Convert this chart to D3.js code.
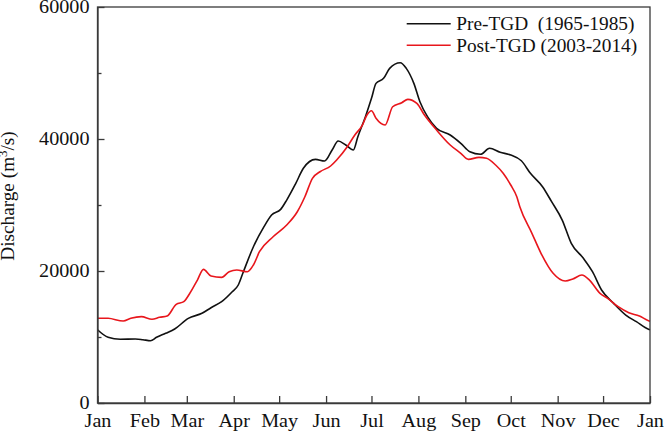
<!DOCTYPE html>
<html>
<head>
<meta charset="utf-8">
<script src="https://cdn.jsdelivr.net/npm/d3@7"></script>
<style>
    body { margin: 0; background: #fff; }
    svg { display: block; }
    text { font-family: "Liberation Serif", "Times New Roman", serif; }
</style>
</head>
<body>
<div id="chart"></div>
<script>
// Month axis (day of year where each month starts)
const monthStarts = [0, 31, 59, 90, 120, 151, 181, 212, 243, 273, 304, 334, 365];
const monthLabels = ["Jan", "Feb", "Mar", "Apr", "May", "Jun", "Jul", "Aug", "Sep", "Oct", "Nov", "Dec", "Jan"];
const yTicks = [0, 20000, 40000, 60000];
const yMinorTicks = [10000, 30000, 50000];

// Pre-TGD (1965-1985) mean daily discharge
const preDays = [0, 7, 15, 25, 30, 35, 39, 45, 51, 60, 69, 75, 82, 89, 93, 96, 103, 110, 115, 121, 125, 131, 136, 144, 150, 155, 159, 164, 169, 172, 177, 181, 184, 189, 193, 200, 204, 209, 213, 218, 224, 233, 240, 246, 253, 259, 266, 273, 280, 286, 294, 300, 307, 313, 321, 327, 333, 341, 349, 356, 364, 365];
const preValues = [11100, 9950, 9650, 9700, 9590, 9440, 9950, 10560, 11210, 12830, 13590, 14440, 15350, 16860, 17880, 19650, 23680, 26710, 28480, 29340, 30750, 33280, 35560, 36910, 36660, 38330, 39690, 39090, 38330, 40350, 43380, 46160, 48430, 49190, 50700, 51560, 50700, 48430, 45650, 43380, 41620, 40600, 39340, 38070, 37680, 38590, 37990, 37570, 36700, 34800, 32770, 30500, 27720, 24190, 21920, 19890, 17120, 15100, 13330, 12320, 11170, 11100];

// Post-TGD (2003-2014) mean daily discharge
const postDays = [0, 7, 17, 22, 29, 36, 41, 46, 52, 57, 61, 66, 70, 75, 82, 87, 92, 99, 103, 107, 116, 125, 132, 137, 142, 147, 154, 158, 165, 170, 175, 178, 181, 184, 190, 195, 201, 205, 211, 216, 224, 233, 240, 245, 252, 257, 263, 268, 273, 277, 279, 287, 293, 301, 309, 314, 320, 325, 332, 337, 344, 351, 358, 364, 365];
const postValues = [12850, 12830, 12420, 12830, 13080, 12680, 12980, 13180, 14950, 15350, 16620, 18630, 20250, 19240, 19040, 19890, 20150, 19890, 20910, 22920, 25190, 26970, 28980, 31250, 34040, 35040, 35910, 36820, 38830, 40600, 42120, 43630, 44280, 43130, 42120, 44890, 45500, 46010, 45400, 43630, 41360, 39090, 37830, 36910, 37220, 37070, 36060, 34800, 33030, 31250, 29740, 25710, 22680, 19650, 18480, 18790, 19390, 18630, 16620, 15860, 14590, 13680, 13180, 12470, 12400];

const seriesNames = ["Pre-TGD  (1965-1985)", "Post-TGD (2003-2014)"];
const seriesColors = ["#111111", "#e8161c"];

const W = 664, H = 432;
const margin = {top: 7, right: 14, bottom: 29, left: 97.5};
const width = W - margin.left - margin.right;
const height = H - margin.top - margin.bottom;
const axisColor = "#3a3a3a";
const stretch = 1.12; // reference text is a little wider than plain Times

const svg = d3.select("#chart").append("svg")
    .attr("width", W)
    .attr("height", H)
    .append("g")
    .attr("transform", `translate(${margin.left},${margin.top})`);

const x = d3.scaleLinear().domain([0, 365]).range([0, width]);
const y = d3.scaleLinear().domain([0, 60000]).range([height, 0]);

// Lines
const line = d3.line()
    .x(d => x(d[0]))
    .y(d => y(d[1]))
    .curve(d3.curveMonotoneX);

const series = [
    d3.zip(preDays, preValues),
    d3.zip(postDays, postValues)
];

series.forEach((s, i) => {
    svg.append("path")
        .datum(s)
        .attr("fill", "none")
        .attr("stroke", seriesColors[i])
        .attr("stroke-width", 1.6)
        .attr("stroke-linejoin", "round")
        .attr("d", line);
});

// X axis (ticks point inward)
svg.append("g")
    .attr("class", "xaxis")
    .attr("transform", `translate(0,${height})`)
    .call(d3.axisBottom(x)
        .tickValues(monthStarts)
        .tickFormat((d, i) => monthLabels[i])
        .tickSizeInner(-7)
        .tickSizeOuter(0)
        .tickPadding(11));

// Y axis
svg.append("g")
    .attr("class", "yaxis")
    .call(d3.axisLeft(y)
        .tickValues(yTicks)
        .tickFormat(d3.format("d"))
        .tickSizeInner(-7)
        .tickSizeOuter(0)
        .tickPadding(8 / stretch));

svg.append("g")
    .call(d3.axisLeft(y)
        .tickValues(yMinorTicks)
        .tickFormat("")
        .tickSizeInner(-4)
        .tickSizeOuter(0))
    .select(".domain").remove();

svg.selectAll(".tick text")
    .style("font-size", "18px")
    .style("fill", "#111")
    .attr("transform", `scale(${stretch},1)`);

svg.selectAll(".domain, .tick line")
    .attr("stroke", axisColor)
    .attr("stroke-width", 1.3);

// Frame
svg.append("rect")
    .attr("width", width)
    .attr("height", height)
    .attr("fill", "none")
    .attr("stroke", axisColor)
    .attr("stroke-width", 1.3);

// Y label
const yLabel = svg.append("text")
    .attr("transform", `translate(${14 - margin.left},${196 - margin.top}) rotate(-90) scale(1.07,1)`)
    .attr("text-anchor", "middle")
    .style("font-size", "18px")
    .style("fill", "#111");
yLabel.append("tspan").text("Discharge (m");
yLabel.append("tspan").attr("dy", -7).style("font-size", "12px").text("3");
yLabel.append("tspan").attr("dy", 7).text("/s)");

// Legend
const legend = svg.append("g")
    .attr("transform", `translate(${406.7 - margin.left},${23.7 - margin.top})`);

seriesNames.forEach((name, i) => {
    const g = legend.append("g").attr("transform", `translate(0,${i * 21.5})`);
    g.append("line")
        .attr("x1", 0).attr("x2", 44)
        .attr("y1", 0).attr("y2", 0)
        .attr("stroke", seriesColors[i])
        .attr("stroke-width", 1.6);
    g.append("text")
        .attr("transform", `translate(49.5,6.3) scale(1.075,1)`)
        .style("font-size", "18px")
        .style("fill", "#111")
        .attr("xml:space", "preserve")
        .text(name);
});
</script>
</body>
</html>
